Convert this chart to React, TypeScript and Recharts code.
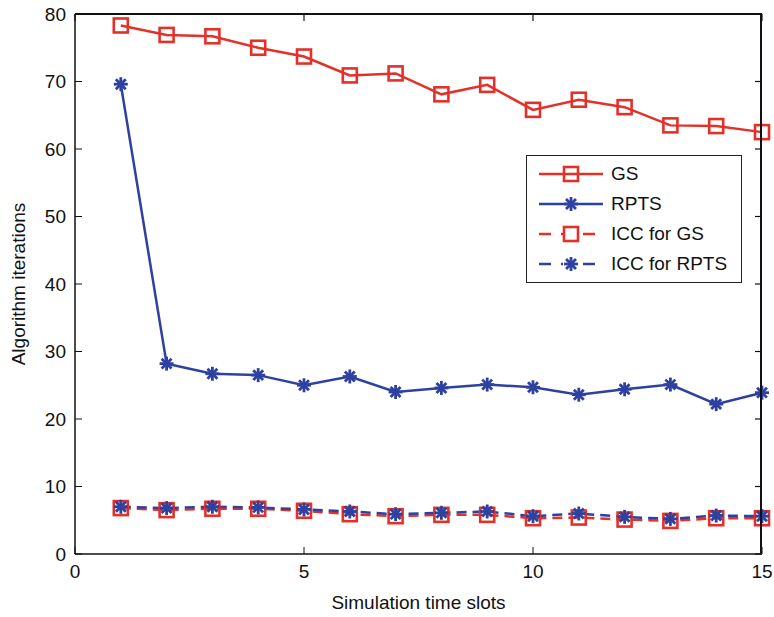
import React from 'react'
import { LineChart, Line, XAxis, YAxis, Label } from 'recharts'

const SLOTS = [1, 2, 3, 4, 5, 6, 7, 8, 9, 10, 11, 12, 13, 14, 15]
const GS = [78.3, 76.9, 76.7, 75.0, 73.7, 70.9, 71.2, 68.1, 69.5, 65.8, 67.3, 66.2, 63.5, 63.4, 62.5]
const RPTS = [69.6, 28.2, 26.7, 26.5, 25.0, 26.3, 24.0, 24.6, 25.1, 24.7, 23.6, 24.4, 25.1, 22.2, 23.9]
const ICC_GS = [6.8, 6.5, 6.7, 6.7, 6.4, 5.9, 5.6, 5.8, 5.8, 5.3, 5.4, 5.1, 4.9, 5.3, 5.3]
const ICC_RPTS = [7.0, 6.8, 7.0, 6.9, 6.6, 6.3, 5.9, 6.1, 6.3, 5.6, 6.0, 5.5, 5.2, 5.7, 5.6]
const X_TICKS = [0, 5, 10, 15]
const Y_TICKS = [0, 10, 20, 30, 40, 50, 60, 70, 80]
const X_MAX = 15
const Y_MAX = 80

const RED = '#e3312a'
const BLUE = '#2d42a0'
const AXIS = '#111'
const FONT = '"Liberation Sans", Arial, sans-serif'

// chart box
const W = 774
const H = 617
const M = { top: 14, right: 12, bottom: 0, left: 0 }
const Y_AXIS_W = 75
const X_AXIS_H = 63
const PLOT = {
	left: M.left + Y_AXIS_W,
	right: W - M.right,
	top: M.top,
	bottom: H - M.bottom - X_AXIS_H,
}

const data = SLOTS.map((s, i) => ({
	slot: s,
	gs: GS[i],
	rpts: RPTS[i],
	iccGs: ICC_GS[i],
	iccRpts: ICC_RPTS[i],
}))

const SERIES = [
	{ key: 'gs', name: 'GS', color: RED, marker: 'square', dash: undefined },
	{ key: 'rpts', name: 'RPTS', color: BLUE, marker: 'star', dash: undefined },
	{ key: 'iccGs', name: 'ICC for GS', color: RED, marker: 'square', dash: '10 6' },
	{ key: 'iccRpts', name: 'ICC for RPTS', color: BLUE, marker: 'star', dash: '10 6' },
]

const Marker = ({ cx, cy, kind, color }: { cx: number; cy: number; kind: string; color: string }) => {
	if (kind === 'square') {
		return <rect x={cx - 7} y={cy - 7} width={14} height={14} fill="none" stroke={color} strokeWidth={2.6} />
	}
	const r = 7
	const d = r * 0.7071
	return (
		<g stroke={color} strokeWidth={2.8}>
			<line x1={cx - r} y1={cy} x2={cx + r} y2={cy} />
			<line x1={cx} y1={cy - r} x2={cx} y2={cy + r} />
			<line x1={cx - d} y1={cy - d} x2={cx + d} y2={cy + d} />
			<line x1={cx - d} y1={cy + d} x2={cx + d} y2={cy - d} />
		</g>
	)
}

const makeDot = (kind: string, color: string) => (props: any) => {
	const { cx, cy, index } = props
	return <Marker key={`${kind}-${color}-${index}`} cx={cx} cy={cy} kind={kind} color={color} />
}

// legend drawn as an overlay so it does not take room from the plot
const LegendBox = () => (
	<div
		style={{
			position: 'absolute',
			left: 526,
			top: 155,
			border: '1.5px solid #222',
			background: '#fff',
			width: 214,
			padding: '3px 0',
			fontFamily: FONT,
			fontSize: 19,
			color: '#111',
		}}
	>
		{SERIES.map(s => (
			<div key={s.key} style={{ display: 'flex', alignItems: 'center', height: 30 }}>
				<svg width={84} height={30} style={{ flexShrink: 0 }}>
					<line x1={12} y1={15} x2={76} y2={15} stroke={s.color} strokeWidth={2.5} strokeDasharray={s.dash ? '12 10' : undefined} />
					{s.dash && <rect x={36} y={8} width={16} height={14} fill="#fff" />}
					<Marker cx={44} cy={15} kind={s.marker} color={s.color} />
				</svg>
				<span>{s.name}</span>
			</div>
		))}
	</div>
)

// top / right side of the MATLAB style box, with inward ticks
const Frame = () => {
	const sx = (v: number) => PLOT.left + ((PLOT.right - PLOT.left) * v) / X_MAX
	const sy = (v: number) => PLOT.bottom - ((PLOT.bottom - PLOT.top) * v) / Y_MAX
	return (
		<>
			<div
				style={{
					position: 'absolute',
					left: PLOT.left,
					top: PLOT.top - 1,
					width: PLOT.right - PLOT.left,
					height: PLOT.bottom - PLOT.top,
					borderTop: `2px solid ${AXIS}`,
					borderRight: `2px solid ${AXIS}`,
					boxSizing: 'border-box',
					pointerEvents: 'none',
					zIndex: 5,
				}}
			/>
			<svg width={W} height={H} style={{ position: 'absolute', left: 0, top: 0, pointerEvents: 'none', zIndex: 6 }}>
				{X_TICKS.map(t => (
					<line key={`x${t}`} x1={sx(t)} y1={PLOT.top} x2={sx(t)} y2={PLOT.top + 7} stroke={AXIS} strokeWidth={1.2} />
				))}
				{Y_TICKS.map(t => (
					<line key={`y${t}`} x1={PLOT.right} y1={sy(t)} x2={PLOT.right - 7} y2={sy(t)} stroke={AXIS} strokeWidth={1.2} />
				))}
			</svg>
		</>
	)
}

const App = () => {
	return (
		<div style={{ position: 'absolute', left: 0, top: 0, width: W, height: H, background: '#fff' }}>
			<LineChart width={W} height={H} data={data} margin={M}>
				<XAxis
					dataKey="slot"
					type="number"
					domain={[0, X_MAX]}
					ticks={X_TICKS}
					height={X_AXIS_H}
					tickSize={-7}
					tickMargin={18}
					axisLine={{ stroke: AXIS, strokeWidth: 1.5 }}
					tickLine={{ stroke: AXIS, strokeWidth: 1 }}
					tick={{ fill: '#111', fontSize: 19, fontFamily: FONT }}
				>
					<Label
						value="Simulation time slots"
						position="insideBottom"
						offset={8}
						style={{ fill: '#111', fontSize: 19, fontFamily: FONT }}
					/>
				</XAxis>
				<YAxis
					type="number"
					domain={[0, Y_MAX]}
					ticks={Y_TICKS}
					width={Y_AXIS_W}
					tickSize={-7}
					tickMargin={16}
					axisLine={{ stroke: AXIS, strokeWidth: 1.5 }}
					tickLine={{ stroke: AXIS, strokeWidth: 1 }}
					tick={{ fill: '#111', fontSize: 19, fontFamily: FONT }}
				>
					<Label
						value="Algorithm iterations"
						angle={-90}
						position="center"
						dx={-19}
						style={{ fill: '#111', fontSize: 19, fontFamily: FONT, textAnchor: 'middle' }}
					/>
				</YAxis>
				{SERIES.map(s => (
					<Line
						key={s.key}
						dataKey={s.key}
						name={s.name}
						stroke={s.color}
						strokeWidth={2.5}
						strokeDasharray={s.dash}
						dot={makeDot(s.marker, s.color)}
						activeDot={false}
						isAnimationActive={false}
					/>
				))}
			</LineChart>
			<Frame />
			<LegendBox />
		</div>
	)
}

export default App
